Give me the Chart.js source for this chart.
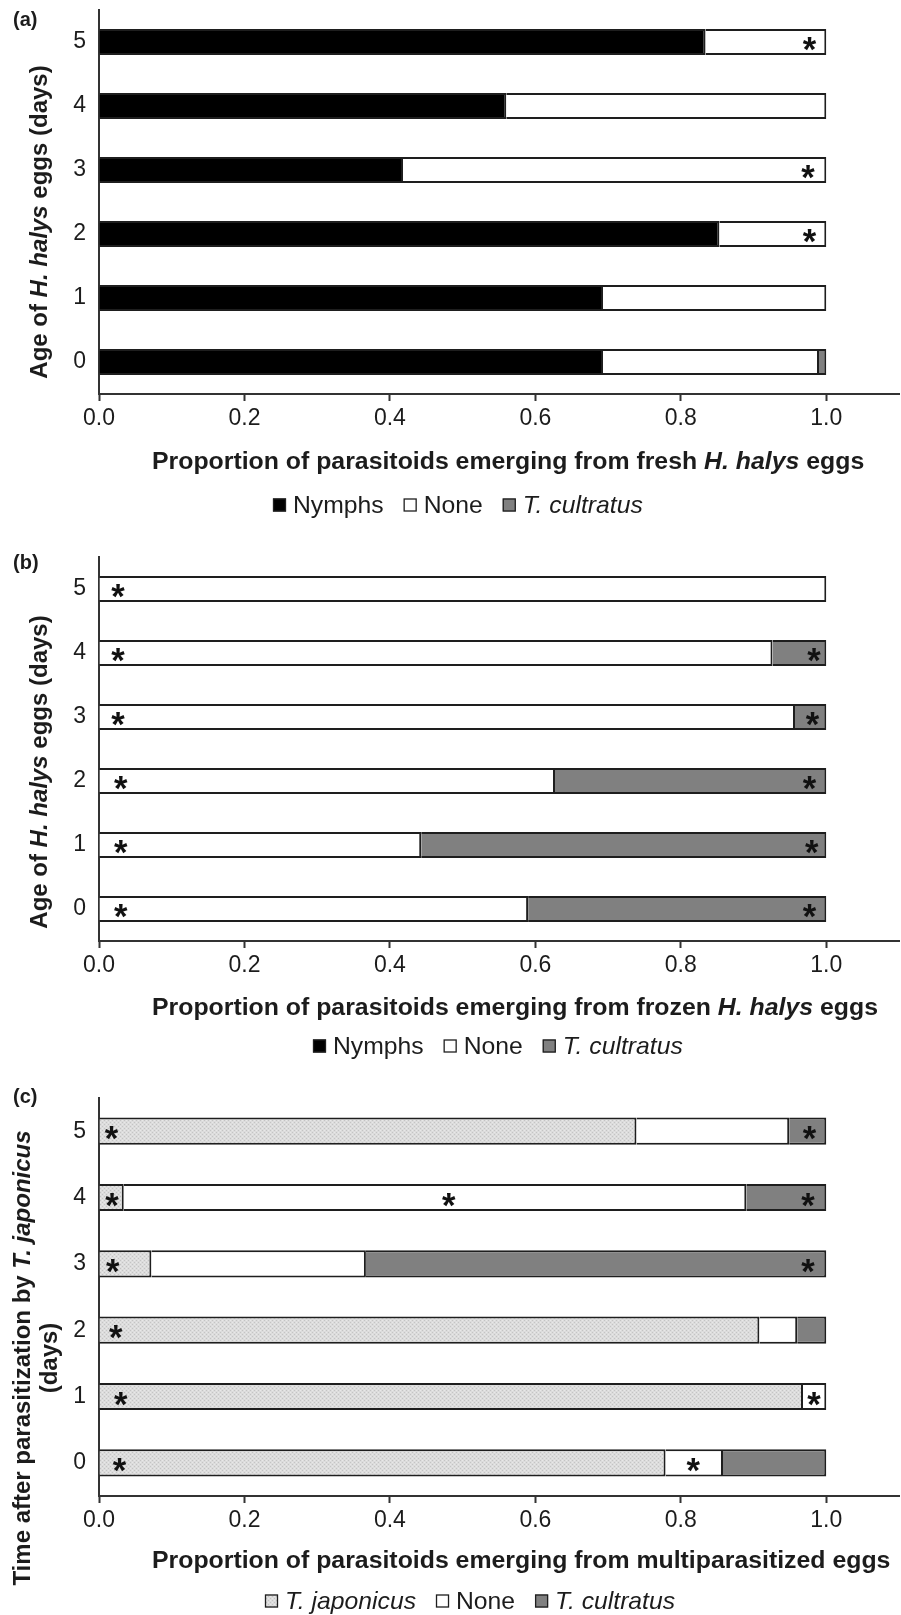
<!DOCTYPE html>
<html>
<head>
<meta charset="utf-8">
<script src="https://cdn.jsdelivr.net/npm/chart.js@4.4.1/dist/chart.umd.min.js"></script>
<style>
  html, body { margin: 0; padding: 0; background: #fff; }
  #wrap { position: relative; width: 901px; height: 1615px; }
  canvas { position: absolute; left: 0; display: block; }
</style>
</head>
<body>
<div id="wrap">
  <canvas id="chart-a" width="901" height="530" style="top:0"></canvas>
  <canvas id="chart-b" width="901" height="530" style="top:530px"></canvas>
  <canvas id="chart-c" width="901" height="555" style="top:1060px"></canvas>
</div>
<script>
/* Emergence from H. halys eggs — three stacked horizontal bar panels */
/* global Chart */

// ─── Data ────────────────────────────────────────────────────────────────────

const days = ["0", "1", "2", "3", "4", "5"];
const xTicks = [0, 0.2, 0.4, 0.6, 0.8, 1.0];

// (a) fresh eggs
const freshNymphs = [0.693, 0.693, 0.853, 0.418, 0.560, 0.834];
const freshNone = [0.297, 0.307, 0.147, 0.582, 0.440, 0.166];
const freshCultratus = [0.010, 0, 0, 0, 0, 0];
const freshStarDays = [5, 3, 2];
const freshStarX = [0.977, 0.975, 0.977];

// (b) frozen eggs
const frozenNymphs = [0, 0, 0, 0, 0, 0];
const frozenNone = [0.590, 0.443, 0.627, 0.957, 0.926, 1.0];
const frozenCultratus = [0.410, 0.557, 0.373, 0.043, 0.074, 0];
const frozenStarDays = [0, 1, 2, 3, 4, 5, 0, 1, 2, 3, 4];
const frozenStarX = [0.030, 0.030, 0.030, 0.026, 0.026, 0.026, 0.977, 0.980, 0.977, 0.981, 0.983];

// (c) multiparasitized eggs
const multiJaponicus = [0.779, 0.968, 0.908, 0.072, 0.034, 0.739];
const multiNone = [0.079, 0.032, 0.052, 0.295, 0.856, 0.210];
const multiCultratus = [0.142, 0, 0.040, 0.633, 0.110, 0.051];
const multiStarDays = [0, 1, 2, 3, 4, 5, 0, 1, 4, 3, 4, 5];
const multiStarX = [0.028, 0.030, 0.023, 0.019, 0.018, 0.017, 0.817, 0.983, 0.481, 0.975, 0.975, 0.977];

// ─── Style ───────────────────────────────────────────────────────────────────

const FONT = "'Liberation Sans', Arial, Helvetica, sans-serif";
const TEXT = "#1c1c1c";
const AXIS = "#333";
const EDGE = "#1e1e1e";
const C_NYMPH = "#000000";
const C_NONE = "#ffffff";
const C_CULT = "#808080";

// stippled light grey for T. japonicus
function makeStipple() {
  const c = document.createElement("canvas");
  c.width = 4; c.height = 4;
  const g = c.getContext("2d");
  g.fillStyle = "#dcdcdc";
  g.fillRect(0, 0, 4, 4);
  g.fillStyle = "#c4c4c4";
  g.fillRect(0, 0, 1, 1);
  g.fillRect(2, 2, 1, 1);
  g.fillStyle = "#e8e8e8";
  g.fillRect(2, 0, 1, 1);
  g.fillRect(0, 2, 1, 1);
  return g.createPattern(c, "repeat");
}
const C_JAPO = makeStipple();

// ─── Text helpers ────────────────────────────────────────────────────────────

function partFont(p, size, bold) {
  return `${p.i ? "italic " : ""}${bold ? "bold " : ""}${size}px ${FONT}`;
}

function partsWidth(ctx, parts, size, bold) {
  let w = 0;
  for (const p of parts) {
    ctx.font = partFont(p, size, bold);
    w += ctx.measureText(p.t).width;
  }
  return w;
}

// draws mixed roman/italic runs; x is the left edge, or the centre when centred
function drawParts(ctx, parts, x, y, opt) {
  const { size, bold = false, center = false, rotate = false, sx = 1 } = opt;
  const total = partsWidth(ctx, parts, size, bold);
  ctx.save();
  ctx.translate(x, y);
  if (rotate) ctx.rotate(-Math.PI / 2);
  ctx.scale(sx, 1);
  ctx.textBaseline = "middle";
  ctx.textAlign = "left";
  ctx.fillStyle = TEXT;
  let cx = center ? -total / 2 : 0;
  for (const p of parts) {
    ctx.font = partFont(p, size, bold);
    ctx.fillText(p.t, cx, 0);
    cx += ctx.measureText(p.t).width;
  }
  ctx.restore();
  return total * sx;
}

// ─── Panel decorations (titles, legend, significance stars) ─────────────────

function decorPlugin(cfg) {
  return {
    id: "decor",
    afterDatasetsDraw(chart) {
      const ctx = chart.ctx;
      const xs = chart.scales.x;
      const ys = chart.scales.y;

      // asterisks, placed through the scales
      ctx.save();
      ctx.font = `bold 100px ${FONT}`;
      const m = ctx.measureText("*");
      const fs = 100 * 13.5 / (m.actualBoundingBoxRight + m.actualBoundingBoxLeft);
      ctx.font = `bold ${fs}px ${FONT}`;
      const mm = ctx.measureText("*");
      const mid = (mm.actualBoundingBoxAscent - mm.actualBoundingBoxDescent) / 2;
      ctx.fillStyle = "#111";
      ctx.textAlign = "center";
      ctx.textBaseline = "alphabetic";
      cfg.starDays.forEach((d, i) => {
        const px = xs.getPixelForValue(cfg.starX[i]);
        const py = ys.getPixelForValue(d);
        ctx.fillText("*", px, py + 2 + mid);
      });
      ctx.restore();
    },
    afterDraw(chart) {
      const ctx = chart.ctx;

      // panel letter
      drawParts(ctx, [{ t: cfg.letter }], 13, cfg.letterY, { size: 20, bold: true });

      // y title (one or two lines)
      cfg.yTitle.forEach((line, i) => {
        drawParts(ctx, line, cfg.yTitleX[i], cfg.yTitleY, { size: 24, bold: true, center: true, rotate: true });
      });

      // x title
      drawParts(ctx, cfg.xTitle, 152, cfg.xTitleY, { size: 23, bold: true, sx: 1.08 });

      // legend
      let lx = cfg.legendX;
      const ly = cfg.legendY;
      cfg.legend.forEach((item) => {
        ctx.save();
        ctx.fillStyle = item.fill;
        ctx.fillRect(lx, ly - 6.5, 13, 13);
        ctx.strokeStyle = EDGE;
        ctx.lineWidth = 1.3;
        ctx.strokeRect(lx + 0.5, ly - 6, 12, 12);
        ctx.restore();
        lx += 20;
        lx += drawParts(ctx, item.parts, lx, ly + 1, { size: 24, sx: 1.03 }) + 20;
      });
    },
  };
}

// ─── Chart factory ───────────────────────────────────────────────────────────

function barSet(label, data, fill) {
  return {
    label,
    data,
    backgroundColor: fill,
    borderColor: EDGE,
    borderWidth: 2,
    borderSkipped: "start",
    barPercentage: 0.41,
    categoryPercentage: 1,
  };
}

function noPad(s) {
  s.paddingTop = 0;
  s.paddingBottom = 0;
  s.paddingLeft = 0;
  s.paddingRight = 0;
}

function makePanel(id, datasets, layout, decor) {
  return new Chart(document.getElementById(id), {
    type: "bar",
    data: { labels: days, datasets },
    options: {
      indexAxis: "y",
      responsive: false,
      animation: false,
      devicePixelRatio: 1,
      layout: { padding: { top: layout.top, right: 2, bottom: 0, left: 0 } },
      plugins: { legend: { display: false }, tooltip: { enabled: false } },
      scales: {
        x: {
          type: "linear",
          stacked: true,
          min: 0,
          max: 1.1,
          afterBuildTicks: (s) => { s.ticks = xTicks.map((v) => ({ value: v })); },
          afterFit: (s) => { s.height = layout.xHeight; noPad(s); },
          ticks: {
            callback: (v) => Number(v).toFixed(1),
            font: { family: FONT, size: 23 },
            color: TEXT,
            padding: 4,
            maxRotation: 0,
          },
          grid: { drawOnChartArea: false, drawTicks: true, tickLength: 7, tickWidth: 2, tickColor: AXIS },
          border: { display: true, color: AXIS, width: 2 },
        },
        y: {
          stacked: true,
          reverse: true,
          afterFit: (s) => { s.width = 99; noPad(s); },
          ticks: { font: { family: FONT, size: 23 }, color: TEXT, padding: 13 },
          grid: { display: false, drawTicks: false },
          border: { display: true, color: AXIS, width: 2 },
        },
      },
    },
    plugins: [decorPlugin(decor)],
  });
}

// ─── Panels ──────────────────────────────────────────────────────────────────

const legendNymphs = { parts: [{ t: "Nymphs" }], fill: C_NYMPH };
const legendNone = { parts: [{ t: "None" }], fill: C_NONE };
const legendCult = { parts: [{ t: "T. cultratus", i: true }], fill: C_CULT };
const legendJapo = { parts: [{ t: "T. japonicus", i: true }], fill: C_JAPO };

const ageTitle = [[{ t: "Age of " }, { t: "H. halys", i: true }, { t: " eggs (days)" }]];

makePanel("chart-a", [
  barSet("Nymphs", freshNymphs, C_NYMPH),
  barSet("None", freshNone, C_NONE),
  barSet("T. cultratus", freshCultratus, C_CULT),
], { top: 10, xHeight: 136 }, {
  letter: "(a)", letterY: 20,
  yTitle: ageTitle, yTitleX: [40], yTitleY: 222,
  xTitle: [{ t: "Proportion of parasitoids emerging from fresh " }, { t: "H. halys", i: true }, { t: " eggs" }],
  xTitleY: 463,
  legend: [legendNymphs, legendNone, legendCult], legendX: 273, legendY: 505,
  starDays: freshStarDays, starX: freshStarX,
});

makePanel("chart-b", [
  barSet("Nymphs", frozenNymphs, C_NYMPH),
  barSet("None", frozenNone, C_NONE),
  barSet("T. cultratus", frozenCultratus, C_CULT),
], { top: 27, xHeight: 119 }, {
  letter: "(b)", letterY: 33,
  yTitle: ageTitle, yTitleX: [40], yTitleY: 242,
  xTitle: [{ t: "Proportion of parasitoids emerging from frozen " }, { t: "H. halys", i: true }, { t: " eggs" }],
  xTitleY: 479,
  legend: [legendNymphs, legendNone, legendCult], legendX: 313, legendY: 516,
  starDays: frozenStarDays, starX: frozenStarX,
});

makePanel("chart-c", [
  barSet("T. japonicus", multiJaponicus, C_JAPO),
  barSet("None", multiNone, C_NONE),
  barSet("T. cultratus", multiCultratus, C_CULT),
], { top: 38, xHeight: 119 }, {
  letter: "(c)", letterY: 37,
  yTitle: [
    [{ t: "Time after parasitization by " }, { t: "T. japonicus", i: true }],
    [{ t: "(days)" }],
  ],
  yTitleX: [23, 50], yTitleY: 298,
  xTitle: [{ t: "Proportion of parasitoids emerging from multiparasitized eggs" }],
  xTitleY: 502,
  legend: [legendJapo, legendNone, legendCult], legendX: 265, legendY: 541,
  starDays: multiStarDays, starX: multiStarX,
});
</script>
</body>
</html>
